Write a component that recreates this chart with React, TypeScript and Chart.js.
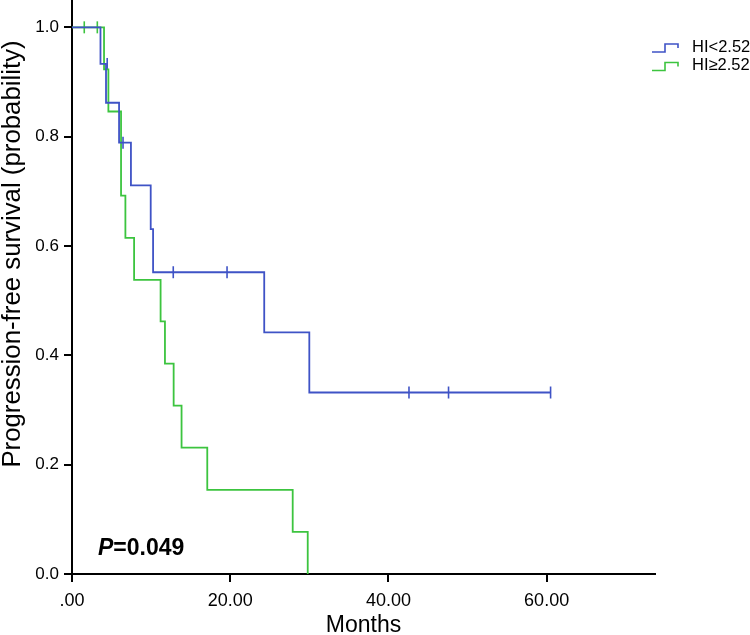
import { useEffect, useRef } from 'react';
import { Chart, registerables } from 'chart.js';

Chart.register(...registerables);

// ---- data ----
const xTickValues = [0, 20, 40, 60];
const xTickLabels = ['.00', '20.00', '40.00', '60.00'];
const yTickValues = [0, 0.2, 0.4, 0.6, 0.8, 1.0];
const yTickLabels = ['0.0', '0.2', '0.4', '0.6', '0.8', '1.0'];

const lowLabel = 'HI<2.52';
const lowTimes = [0, 3.6, 4.3, 5.95, 7.45, 9.95, 10.25, 24.3, 30.0, 60.5];
const lowSurv = [1, 0.933, 0.862, 0.789, 0.711, 0.631, 0.552, 0.442, 0.332, 0.332];
const lowCensorTimes = [4.45, 6.45, 12.8, 19.6, 42.6, 47.6, 60.5];
const lowCensorSurv = [0.933, 0.789, 0.552, 0.552, 0.332, 0.332, 0.332];

const highLabel = 'HI≥2.52';
const highTimes = [0, 4.05, 4.6, 6.2, 6.75, 7.85, 11.2, 11.75, 12.85, 13.85, 17.1, 27.9, 29.8];
const highSurv = [1, 0.923, 0.846, 0.692, 0.615, 0.538, 0.462, 0.385, 0.308, 0.231, 0.154, 0.077, 0];
const highCensorTimes = [1.55, 3.2];
const highCensorSurv = [1, 1];

const pValueText = '=0.049';
const yTitle = 'Progression-free survival (probability)';
const xTitle = 'Months';

const BLUE = '#3f53c6';
const GREEN = '#3cc43f';
const SANS = '"Liberation Sans", Arial, sans-serif';

const pts = (xs: number[], ys: number[]) => xs.map((x, i) => ({ x, y: ys[i] }));

const overlay = {
  id: 'overlay',
  afterDraw(chart: any) {
    const ctx = chart.ctx as CanvasRenderingContext2D;
    const area = chart.chartArea;
    ctx.save();
    // y title
    ctx.fillStyle = '#000';
    ctx.font = `25.8px ${SANS}`;
    ctx.textAlign = 'center';
    ctx.textBaseline = 'middle';
    ctx.translate(13, 254);
    ctx.rotate(-Math.PI / 2);
    ctx.fillText(yTitle, 0, 0);
    ctx.restore();

    // legend
    ctx.save();
    const items = [
      { label: lowLabel, color: BLUE, y: 52 },
      { label: highLabel, color: GREEN, y: 70.5 },
    ];
    items.forEach((it) => {
      ctx.strokeStyle = it.color;
      ctx.lineWidth = 1.6;
      ctx.beginPath();
      ctx.moveTo(652, it.y);
      ctx.lineTo(665, it.y);
      ctx.lineTo(665, it.y - 8);
      ctx.lineTo(678, it.y - 8);
      ctx.lineTo(678, it.y - 4);
      ctx.stroke();
      ctx.fillStyle = '#000';
      ctx.font = `16.5px ${SANS}`;
      ctx.textAlign = 'left';
      ctx.textBaseline = 'middle';
      ctx.fillText(it.label, 692, it.y - 5);
    });
    ctx.restore();

    // p value
    ctx.save();
    ctx.fillStyle = '#000';
    ctx.textBaseline = 'alphabetic';
    ctx.textAlign = 'left';
    const px = area.left + 26;
    const py = 555;
    ctx.font = `italic bold 23px ${SANS}`;
    ctx.fillText('P', px, py);
    const w = ctx.measureText('P').width;
    ctx.font = `bold 23px ${SANS}`;
    ctx.fillText(pValueText, px + w, py);
    ctx.restore();
  },
};

export default function App() {
  const ref = useRef<HTMLCanvasElement | null>(null);
  useEffect(() => {
    if (!ref.current) return;
    const chart = new Chart(ref.current, {
      type: 'line',
      data: {
        datasets: [
          {
            label: lowLabel,
            data: pts(lowTimes, lowSurv),
            borderColor: BLUE,
            borderWidth: 1.8,
            stepped: 'before',
            pointRadius: 0,
            fill: false,
          },
          {
            label: highLabel,
            data: pts(highTimes, highSurv),
            borderColor: GREEN,
            borderWidth: 1.8,
            stepped: 'before',
            pointRadius: 0,
            fill: false,
          },
          {
            label: 'censor-low',
            data: pts(lowCensorTimes, lowCensorSurv),
            showLine: false,
            pointStyle: 'line',
            rotation: 90,
            pointRadius: 6,
            borderColor: BLUE,
            borderWidth: 1.6,
          },
          {
            label: 'censor-high',
            data: pts(highCensorTimes, highCensorSurv),
            showLine: false,
            pointStyle: 'line',
            rotation: 90,
            pointRadius: 6,
            borderColor: GREEN,
            borderWidth: 1.6,
          },
        ],
      },
      options: {
        responsive: false,
        animation: false,
        layout: { autoPadding: false, padding: { top: 0, right: 95, left: 0, bottom: 0 } },
        plugins: { legend: { display: false }, tooltip: { enabled: false } },
        scales: {
          x: {
            type: 'linear',
            min: 0,
            max: 73.7,
            afterBuildTicks: (s: any) => {
              s.ticks = xTickValues.map((v) => ({ value: v }));
            },
            afterFit: (s: any) => {
              s.height = 61;
              s.paddingLeft = 0;
              s.paddingRight = 0;
            },
            ticks: {
              color: '#000',
              font: { family: SANS, size: 18 },
              padding: 8,
              maxRotation: 0,
              callback: (v: any) => {
                const i = xTickValues.indexOf(Number(v));
                return i >= 0 ? xTickLabels[i] : '';
              },
            },
            grid: { drawOnChartArea: false, drawTicks: true, tickLength: 8, color: '#000', lineWidth: 2 },
            border: { display: true, color: '#000', width: 2 },
            title: {
              display: true,
              text: xTitle,
              color: '#000',
              font: { family: SANS, size: 23, lineHeight: 1.0 },
              padding: { top: 0, bottom: -2 },
            },
          },
          y: {
            type: 'linear',
            min: 0,
            max: 1.05,
            afterBuildTicks: (s: any) => {
              s.ticks = yTickValues.map((v) => ({ value: v }));
            },
            afterFit: (s: any) => {
              s.width = 72;
              s.paddingTop = 0;
              s.paddingBottom = 0;
            },
            ticks: {
              color: '#000',
              font: { family: SANS, size: 17 },
              padding: 5,
              callback: (v: any) => {
                const i = yTickValues.findIndex((t) => Math.abs(t - Number(v)) < 1e-6);
                return i >= 0 ? yTickLabels[i] : '';
              },
            },
            grid: { drawOnChartArea: false, drawTicks: true, tickLength: 8, color: '#000', lineWidth: 2 },
            border: { display: true, color: '#000', width: 2 },
          },
        },
      },
      plugins: [overlay],
    } as any);
    return () => chart.destroy();
  }, []);
  return (
    <div style={{ position: 'absolute', left: 0, top: 0, width: 750, height: 635, background: '#fff' }}>
      <canvas ref={ref} width={750} height={635} style={{ display: 'block' }} />
    </div>
  );
}
